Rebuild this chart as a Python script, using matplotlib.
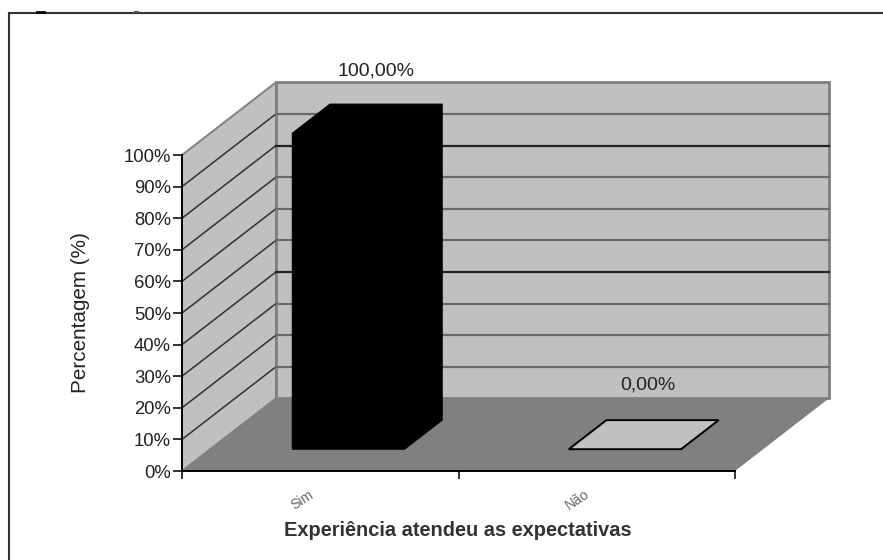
import numpy as np
import matplotlib
matplotlib.use("Agg")
import matplotlib.pyplot as plt
from matplotlib.patches import Polygon

categories = ["Sim", "Não"]
values = [100.0, 0.0]
value_labels = ["100,00%", "0,00%"]
y_ticks = [0, 10, 20, 30, 40, 50, 60, 70, 80, 90, 100]

W, H = 883, 560
DX, DY = 0.34, 23.0    # shear of the depth axis, in data units
BAR_X = (0.297, 0.703)
BAR_D = (0.30, 0.70)
LABEL_OFFSETS = [(9, 48), (4, 50)]   # pixels from the top of each bar
CAT_PX = [(302, 500), (577, 500)]
DARK_GRID = [40, 80]   # these two came out darker in the scan

WALL = "#c0c0c0"
FLOOR = "#808080"
EDGE = "#808080"
TEXT = "#222222"


def proj(x, y, d=0.0):
    return (x + DX * d, y + DY * d)


def face(ax, pts, fc, ec="none", lw=0.0, z=2):
    ax.add_patch(Polygon([proj(*p) for p in pts], closed=True, fc=fc, ec=ec, lw=lw,
                         zorder=z, clip_on=False, joinstyle="miter"))


plt.rcParams["font.family"] = ["Liberation Sans", "DejaVu Sans"]
fig = plt.figure(figsize=(W / 100, H / 100), dpi=100)
ax = fig.add_axes([182 / W, 1 - 471 / H, (735 - 182) / W, (471 - 155) / H])
ax.set_xlim(0, 2)
ax.set_ylim(0, 100)
ax.patch.set_visible(False)
for s in ["top", "right"]:
    ax.spines[s].set_visible(False)
for s in ["left", "bottom"]:
    ax.spines[s].set_linewidth(1.4)
    ax.spines[s].set_zorder(6)

# walls and floor
face(ax, [(0, 0, 0), (0, 100, 0), (0, 100, 1), (0, 0, 1)], WALL, EDGE, 1.4)
face(ax, [(0, 0, 1), (0, 100, 1), (2, 100, 1), (2, 0, 1)], WALL, EDGE, 2.0)
face(ax, [(0, 0, 0), (2, 0, 0), (2, 0, 1), (0, 0, 1)], FLOOR)

# gridlines: side wall then back wall
for t in y_ticks[1:-1]:
    xs, ys = zip(proj(0, t, 0), proj(0, t, 1))
    ax.plot(xs, ys, color="#303030", lw=1.1, zorder=3, clip_on=False)
    xs, ys = zip(proj(0, t, 1), proj(2, t, 1))
    col = "#222222" if t in DARK_GRID else "#6a6a6a"
    ax.plot(xs, ys, color=col, lw=1.6, zorder=3, clip_on=False)

# bars
for i, v in enumerate(values):
    x0, x1 = i + BAR_X[0], i + BAR_X[1]
    d0, d1 = BAR_D
    if v > 0:
        face(ax, [(x0, 0, d0), (x1, 0, d0), (x1, 0, d1), (x1, v, d1), (x0, v, d1), (x0, v, d0)],
             "black", "black", 0.8, z=4)
    else:
        face(ax, [(x0, 0, d0), (x1, 0, d0), (x1, 0, d1), (x0, 0, d1)],
             WALL, "black", 1.4, z=4)
    ax.annotate(value_labels[i], proj(i + 0.5, v, 0.5), xytext=LABEL_OFFSETS[i],
                textcoords="offset pixels", ha="center", va="center", fontsize=14,
                color=TEXT, annotation_clip=False, zorder=5)

ax.set_yticks(y_ticks)
ax.set_yticklabels([f"{t}%" for t in y_ticks], fontsize=13.3, color=TEXT)
ax.set_xticks([0, 1, 2])
ax.set_xticklabels([])
ax.tick_params(axis="y", length=6.5, width=1.2, color="#111111", pad=1.5)
ax.tick_params(axis="x", length=5.5, width=1.2, color="#111111")

# rotated category labels, placed in figure pixels below the axis
for (px, py), name in zip(CAT_PX, categories):
    fig.text(px / W, 1 - py / H, name, rotation=33, fontsize=10, color="#666666",
             ha="center", va="center")

fig.text(458 / W, 1 - 530 / H, "Experiência atendeu as expectativas", fontsize=14.4,
         color="#333333", ha="center", va="center", fontweight="bold")
fig.text(80 / W, 1 - 313 / H, "Percentagem (%)", rotation=90, fontsize=14.9,
         color=TEXT, ha="center", va="center")

# outer chart frame, cut off by the scan on the right and bottom
fig.add_artist(plt.Line2D([9 / W, 9 / W], [0, 1 - 13 / H], color="#333333", lw=1.5))
fig.add_artist(plt.Line2D([9 / W, 1], [1 - 13 / H, 1 - 13 / H], color="#333333", lw=1.5))
# leftovers of the text line above the frame
fig.add_artist(plt.Line2D([37 / W, 44 / W], [1 - 12 / H, 1 - 12 / H], color="black", lw=2))
fig.add_artist(plt.Line2D([135 / W, 138 / W], [1 - 12 / H, 1 - 12 / H], color="#555555", lw=1.5))

fig.savefig("out.png", dpi=100)
